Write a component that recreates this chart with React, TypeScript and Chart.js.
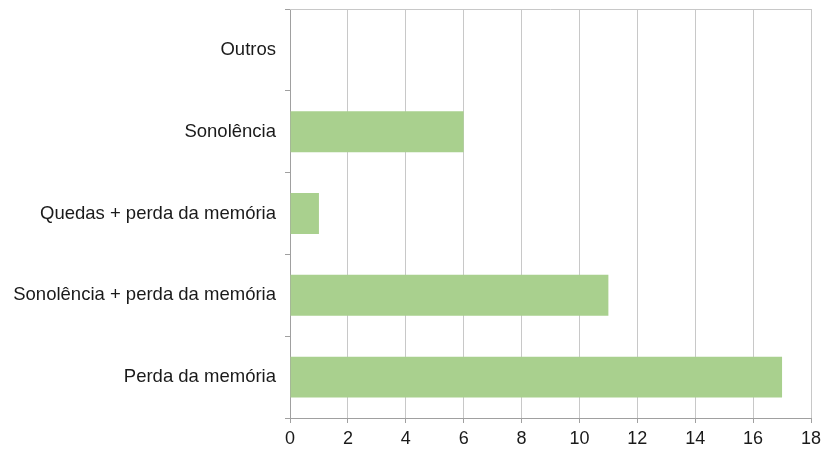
import React, { useEffect, useRef } from "react";
import { Chart, registerables } from "chart.js";

Chart.register(...registerables);

const categories = [
  "Outros",
  "Sonolência",
  "Quedas + perda da memória",
  "Sonolência + perda da memória",
  "Perda da memória",
];
const values = [0, 6, 1, 11, 17];
const xMin = 0;
const xMax = 18;
const xStep = 2;

const borderPlugin = {
  id: "areaBorder",
  afterDraw(chart: any) {
    const { ctx, chartArea } = chart;
    ctx.save();
    ctx.strokeStyle = "#c8c8c8";
    ctx.lineWidth = 1;
    ctx.beginPath();
    ctx.moveTo(chartArea.left, chartArea.top + 0.5);
    ctx.lineTo(chartArea.right, chartArea.top + 0.5);
    ctx.stroke();
    ctx.restore();
  },
};

export default function App() {
  const ref = useRef<HTMLCanvasElement>(null);
  useEffect(() => {
    if (!ref.current) return;
    const chart = new Chart(ref.current, {
      type: "bar",
      data: {
        labels: categories,
        datasets: [
          {
            data: values,
            backgroundColor: "#a9d08e",
            barPercentage: 0.5,
            categoryPercentage: 1,
          },
        ],
      },
      options: {
        indexAxis: "y",
        animation: false,
        responsive: true,
        maintainAspectRatio: false,
        layout: { padding: { top: 9, right: 12, bottom: 0, left: 0 } },
        plugins: { legend: { display: false }, tooltip: { enabled: false } },
        scales: {
          x: {
            min: xMin,
            max: xMax,
            afterFit(scale: any) {
              scale.height = 32;
              scale.paddingRight = 0;
              scale.paddingLeft = 0;
            },
            ticks: {
              stepSize: xStep,
              color: "#1a1a1a",
              font: { family: "Liberation Sans", size: 18 },
              padding: 5,
            },
            grid: { color: "#c8c8c8", tickLength: 5, tickColor: "#a0a0a0" },
            border: { color: "#a0a0a0" },
          },
          y: {
            afterFit(scale: any) {
              scale.width = 290;
              scale.paddingTop = 0;
              scale.paddingBottom = 0;
            },
            ticks: {
              color: "#1a1a1a",
              font: { family: "Liberation Sans", size: 18.5 },
              padding: 9,
            },
            grid: {
              drawOnChartArea: false,
              offset: true,
              tickLength: 5,
              tickColor: "#a0a0a0",
            },
            border: { color: "#a0a0a0" },
          },
        },
      },
      plugins: [borderPlugin],
    });
    return () => chart.destroy();
  }, []);
  return (
    <div style={{ position: "fixed", left: 0, top: 0, width: 823, height: 450, background: "#fff" }}>
      <canvas ref={ref} />
    </div>
  );
}
